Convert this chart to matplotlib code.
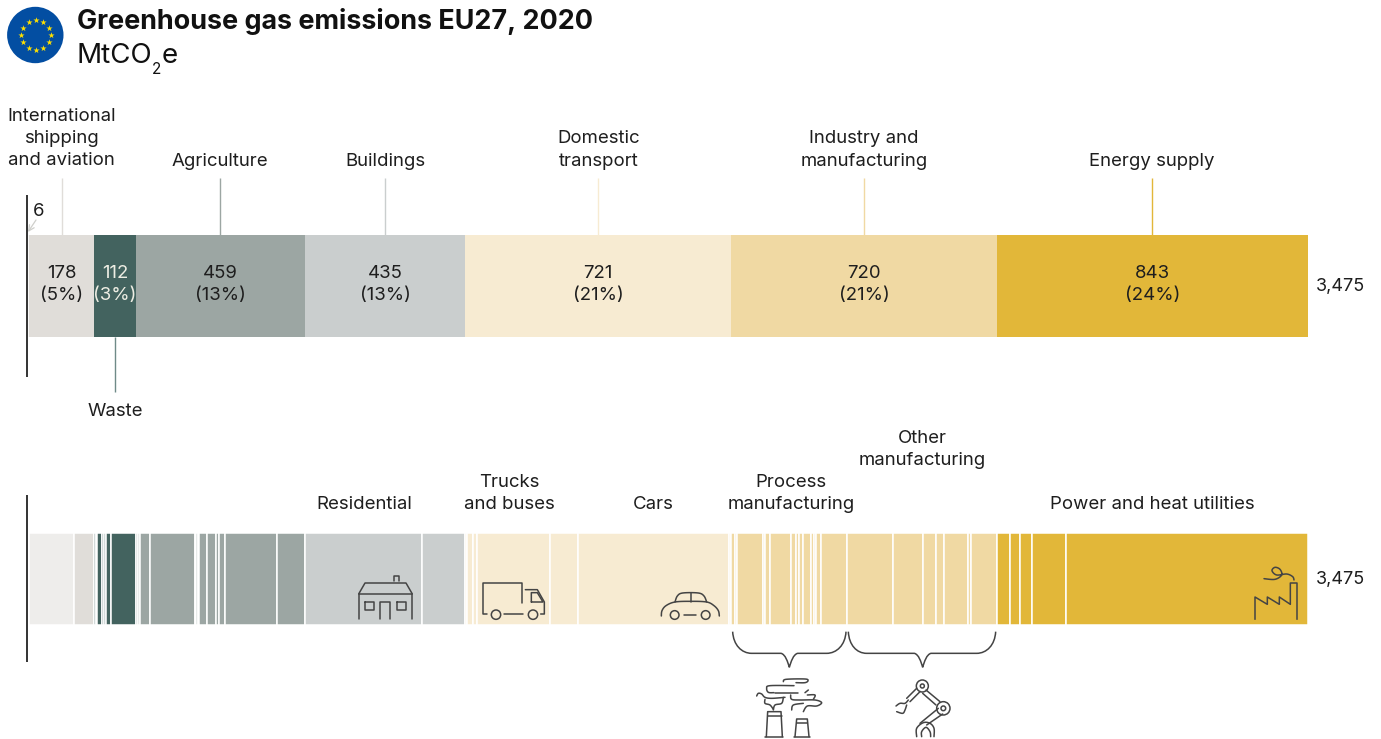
import numpy as np
import matplotlib
matplotlib.use('Agg')
import matplotlib.pyplot as plt
from matplotlib.patches import Circle, PathPatch
from matplotlib.path import Path

plt.rcParams['font.family'] = ['Inter', 'DejaVu Sans']

# top bar, MtCO2e
sectors = ['International\nshipping\nand aviation', 'Waste', 'Agriculture', 'Buildings',
           'Domestic\ntransport', 'Industry and\nmanufacturing', 'Energy supply']
sector_values = [178, 112, 459, 435, 721, 720, 843]
sector_share = [5, 3, 13, 13, 21, 21, 24]
sector_colors = ['#E0DDD9', '#43635F', '#9CA6A3', '#CACECE', '#F7EBD2', '#F0D9A3', '#E2B739']
line_colors = ['#E0DDD9', '#6F8A88', '#9CA6A3', '#CACECE', '#F7EBD2', '#F0D9A3', '#E2B739']
unlabelled = 6
total = 3475

# bottom bar, subsectors
shipping = [123, 55]
waste = [3.3, 2.7, 15.7, 4.6, 6.2, 12, 67.5]
agriculture = [5, 7, 26.6, 122.3, 2.7, 6.5, 2.7, 20, 26.3, 8.1, 14.1, 141.3, 76.4]
buildings = [318.3, 116.7]
transport = [4.9, 14.9, 2.2, 10.8, 196.3, 75.7, 408.9, 7.3]
industry = [9.2, 7.6, 70.5, 4.9, 12.2, 57.8, 13.6, 7.3, 11.9, 21.2, 8.4, 4.6, 15.2, 69.7,
            125.5, 80.8, 35, 21.2, 66.4, 6.8, 70.2]
energy = [36.1, 27.7, 31.7, 92.5, 655]
groups = [waste, agriculture, buildings, transport, industry, energy]

W, H = 1381, 739
fig = plt.figure(figsize=(W / 100, H / 100), dpi=100)

# bars live on a value axis, decoration on a pixel axis
ax = fig.add_axes([26.5 / W, 0, (1308 - 26.5) / W, 1])
ax.set_xlim(0, total)
ax.set_ylim(H, 0)
ax.axis('off')
deco = fig.add_axes([0, 0, 1, 1])
deco.set_xlim(0, W)
deco.set_ylim(H, 0)
deco.axis('off')
deco.patch.set_alpha(0)

TXT = '#1E1E1E'
ICON = '#444444'
FS = 13.4


def label(x, y, s, **kw):
    kw.setdefault('fontsize', FS)
    kw.setdefault('color', TXT)
    kw.setdefault('ha', 'center')
    kw.setdefault('va', 'center')
    deco.text(x, y + 2, s, **kw)


def to_px(v):
    return 26.5 + v / total * (1308 - 26.5)


# top bar
left = unlabelled
ax.barh(285.5, unlabelled, left=0, height=102, color='#FAFAF9', linewidth=0)
centers = []
for val, col in zip(sector_values, sector_colors):
    ax.barh(285.5, val, left=left, height=102, color=col, linewidth=0)
    centers.append(left + val / 2)
    left += val

for i, c in enumerate(centers):
    px = to_px(c)
    txtcol = '#EDEDE3' if sectors[i] == 'Waste' else TXT
    label(px, 271, str(sector_values[i]), color=txtcol)
    label(px, 294, '(%d%%)' % sector_share[i], color=txtcol)
    if sectors[i] == 'Waste':
        ax.vlines(c, 337, 392, color=line_colors[i], lw=1)
        label(px, 410, sectors[i])
    else:
        ax.vlines(c, 178, 235, color=line_colors[i], lw=1)
        n = sectors[i].count('\n')
        label(px, 159.5 - 11.5 * n, sectors[i], linespacing=1.4)

ax.vlines(0, 195, 377, color='#111111', lw=1.2, clip_on=False)
label(39, 209, str(unlabelled))
deco.annotate('', xy=(28, 232), xytext=(36, 220),
              arrowprops=dict(arrowstyle='->', color='#CFCFCB', lw=0.9, shrinkA=0, shrinkB=0))
label(1316, 285, '{:,}'.format(total), ha='left', fontsize=13)

# bottom bar
left = unlabelled
for val, col in zip(shipping, ['#EEEDEB', '#E0DDD9']):
    ax.barh(579, val, left=left, height=92, color=col, edgecolor='white', linewidth=1.1)
    left += val
for grp, col in zip(groups, sector_colors[1:]):
    for val in grp:
        ax.barh(579, val, left=left, height=92, color=col, edgecolor='white', linewidth=1.1)
        left += val
ax.vlines(0, 495, 662, color='#111111', lw=1.2, clip_on=False)
label(1316, 577.5, '{:,}'.format(total), ha='left', fontsize=13)

label(364, 502.5, 'Residential')
label(509, 491.5, 'Trucks\nand buses', linespacing=1.4)
label(653, 502.5, 'Cars')
label(791, 491.5, 'Process\nmanufacturing', linespacing=1.4)
label(922, 447.5, 'Other\nmanufacturing', linespacing=1.4)
label(1152, 502.5, 'Power and heat utilities')

# title and flag
label(77, 19.5, 'Greenhouse gas emissions EU27, 2020', ha='left', fontsize=19.42, fontweight='bold', color='#111111')
deco.text(77, 63, 'MtCO', ha='left', va='baseline', fontsize=20, color='#111111')
deco.text(152, 74, '2', ha='left', va='baseline', fontsize=11, color='#111111')
deco.text(162, 63, 'e', ha='left', va='baseline', fontsize=20, color='#111111')
deco.add_patch(Circle((35.3, 35), 28.2, color='#034EA2', lw=0))
ang = np.deg2rad(np.arange(0, 360, 30))
deco.scatter(36 + 14.7 * np.cos(ang), 35 + 14.7 * np.sin(ang), marker='*', s=22, color='#FFE000', lw=0, zorder=3)


def line(pts, ox, oy, col=ICON, lw=1.1):
    p = np.array(pts, dtype=float) / 3
    deco.plot(p[:, 0] + ox, p[:, 1] + oy, color=col, lw=lw, solid_capstyle='round', solid_joinstyle='round')


def curve(pts, ox, oy):
    # catmull-rom through the traced points
    p = np.array(pts, dtype=float)
    p = np.vstack([p[0], p, p[-1]])
    out = []
    for i in range(1, len(p) - 2):
        for t in np.linspace(0, 1, 8):
            out.append(0.5 * (2 * p[i] + (p[i + 1] - p[i - 1]) * t
                              + (2 * p[i - 1] - 5 * p[i] + 4 * p[i + 1] - p[i + 2]) * t ** 2
                              + (3 * p[i] - p[i - 1] - 3 * p[i + 1] + p[i + 2]) * t ** 3))
    line(out, ox, oy)


def ring(cx, cy, r, ox, oy, col=ICON, lw=1.1):
    deco.add_patch(Circle((cx / 3 + ox, cy / 3 + oy), r / 3, fill=False, edgecolor=col, lw=lw))


# house
o = (300, 520)
line([(176, 296), (176, 222), (337, 222), (337, 296)], *o)
line([(176, 222), (195, 189), (318, 189), (337, 222)], *o)
line([(282, 182), (282, 167), (298, 167), (298, 182)], *o)
line([(195, 245), (221, 245), (221, 270), (195, 270), (195, 245)], *o)
line([(291, 245), (317, 245), (317, 270), (291, 270), (291, 245)], *o)
line([(241, 296), (241, 245), (271, 245), (271, 296)], *o)
# truck
line([(562, 283), (549, 283), (549, 189), (667, 189), (667, 248)], *o)
line([(676, 209), (712, 209), (733, 246), (733, 282), (722, 282)], *o)
line([(694, 246), (694, 218), (712, 218), (729, 246), (694, 246)], *o)
line([(612, 282), (668, 282)], *o)
ring(588, 284, 14, *o)
ring(699, 284, 14, *o)
# car
o = (590, 520)
curve([(214, 288), (216, 272), (228, 257), (255, 246), (302, 244), (350, 246), (372, 257), (385, 272), (388, 288)], *o)
curve([(255, 246), (262, 228), (278, 219), (325, 219), (342, 228), (350, 246)], *o)
line([(302, 219), (302, 246)], *o)
line([(282, 285), (318, 285)], *o)
ring(254, 285, 13, *o)
ring(347, 285, 13, *o)
# factory
o = (1180, 520)
line([(225, 298), (225, 231), (262, 253), (262, 231), (298, 253), (298, 231), (331, 253), (331, 189), (351, 189), (351, 298)], *o)
curve([(252, 176), (285, 178), (305, 165), (300, 148), (285, 142), (276, 152), (290, 165), (320, 162), (338, 170), (342, 180)], *o)

# braces
o = (720, 620)
C4 = Path.CURVE4
for x0, x1, xt, xa, xb in [(38, 378, 208, 95, 320), (385, 827, 608, 440, 770)]:
    verts = [(x0, 35), (x0 + 2, 75), (xa - 30, 100), (xa, 100), (xt - 40, 100), (xt - 40, 100), (xt - 25, 100),
             (xt - 12, 103), (xt - 5, 125), (xt, 142), (xt + 5, 125), (xt + 12, 103), (xt + 25, 100),
             (xt + 40, 100), (xt + 40, 100), (xb, 100), (xb + 30, 100), (x1 - 2, 75), (x1, 35)]
    verts = [(a / 3 + o[0], b / 3 + o[1]) for a, b in verts]
    codes = [Path.MOVETO, C4, C4, C4, Path.LINETO, Path.LINETO, Path.LINETO, C4, C4, C4, C4, C4, C4, Path.LINETO,
             Path.LINETO, Path.LINETO, C4, C4, C4]
    deco.add_patch(PathPatch(Path(verts, codes), fill=False, edgecolor=ICON, lw=1.1))

# smokestacks
line([(139, 350), (143, 275), (183, 275), (187, 350)], *o)
line([(143, 288), (185, 288)], *o)
line([(135, 350), (190, 350)], *o)
line([(225, 350), (230, 297), (262, 297), (267, 350)], *o)
line([(230, 308), (262, 308)], *o)
line([(222, 350), (270, 350)], *o)
curve([(228, 188), (255, 188), (264, 182), (255, 177), (198, 178), (190, 185)], *o)
curve([(222, 197), (150, 197), (140, 205), (145, 217), (162, 218)], *o)
line([(165, 218), (235, 218)], *o)
curve([(110, 228), (115, 220), (125, 222), (135, 232), (155, 235), (195, 232)], *o)
curve([(190, 232), (185, 250), (165, 255), (160, 270)], *o)
curve([(135, 238), (135, 250), (150, 255), (160, 268)], *o)
curve([(212, 225), (215, 238), (240, 240), (285, 240), (305, 248), (290, 258), (262, 258), (250, 275)], *o)
curve([(265, 210), (255, 218)], *o)
curve([(262, 225), (285, 225), (280, 238)], *o)
curve([(215, 270), (220, 255), (250, 250)], *o)
# robot arm
curve([(590, 350), (590, 325), (610, 308), (630, 310), (642, 325), (642, 350)], *o)
curve([(605, 350), (605, 335), (618, 322), (630, 335), (632, 350)], *o)
line([(600, 310), (655, 265)], *o)
line([(620, 315), (668, 282)], *o)
line([(618, 210), (660, 245)], *o)
line([(608, 220), (648, 255)], *o)
line([(590, 205), (560, 235)], *o)
line([(600, 215), (570, 245)], *o)
curve([(565, 240), (555, 250), (540, 250), (528, 258)], *o)
curve([(560, 255), (555, 270), (548, 280), (530, 275)], *o)
ring(607, 198, 18, *o)
ring(670, 265, 20, *o)
ring(607, 198, 6, *o)
ring(670, 265, 7, *o)

fig.savefig('out.png', dpi=100, facecolor='white')
